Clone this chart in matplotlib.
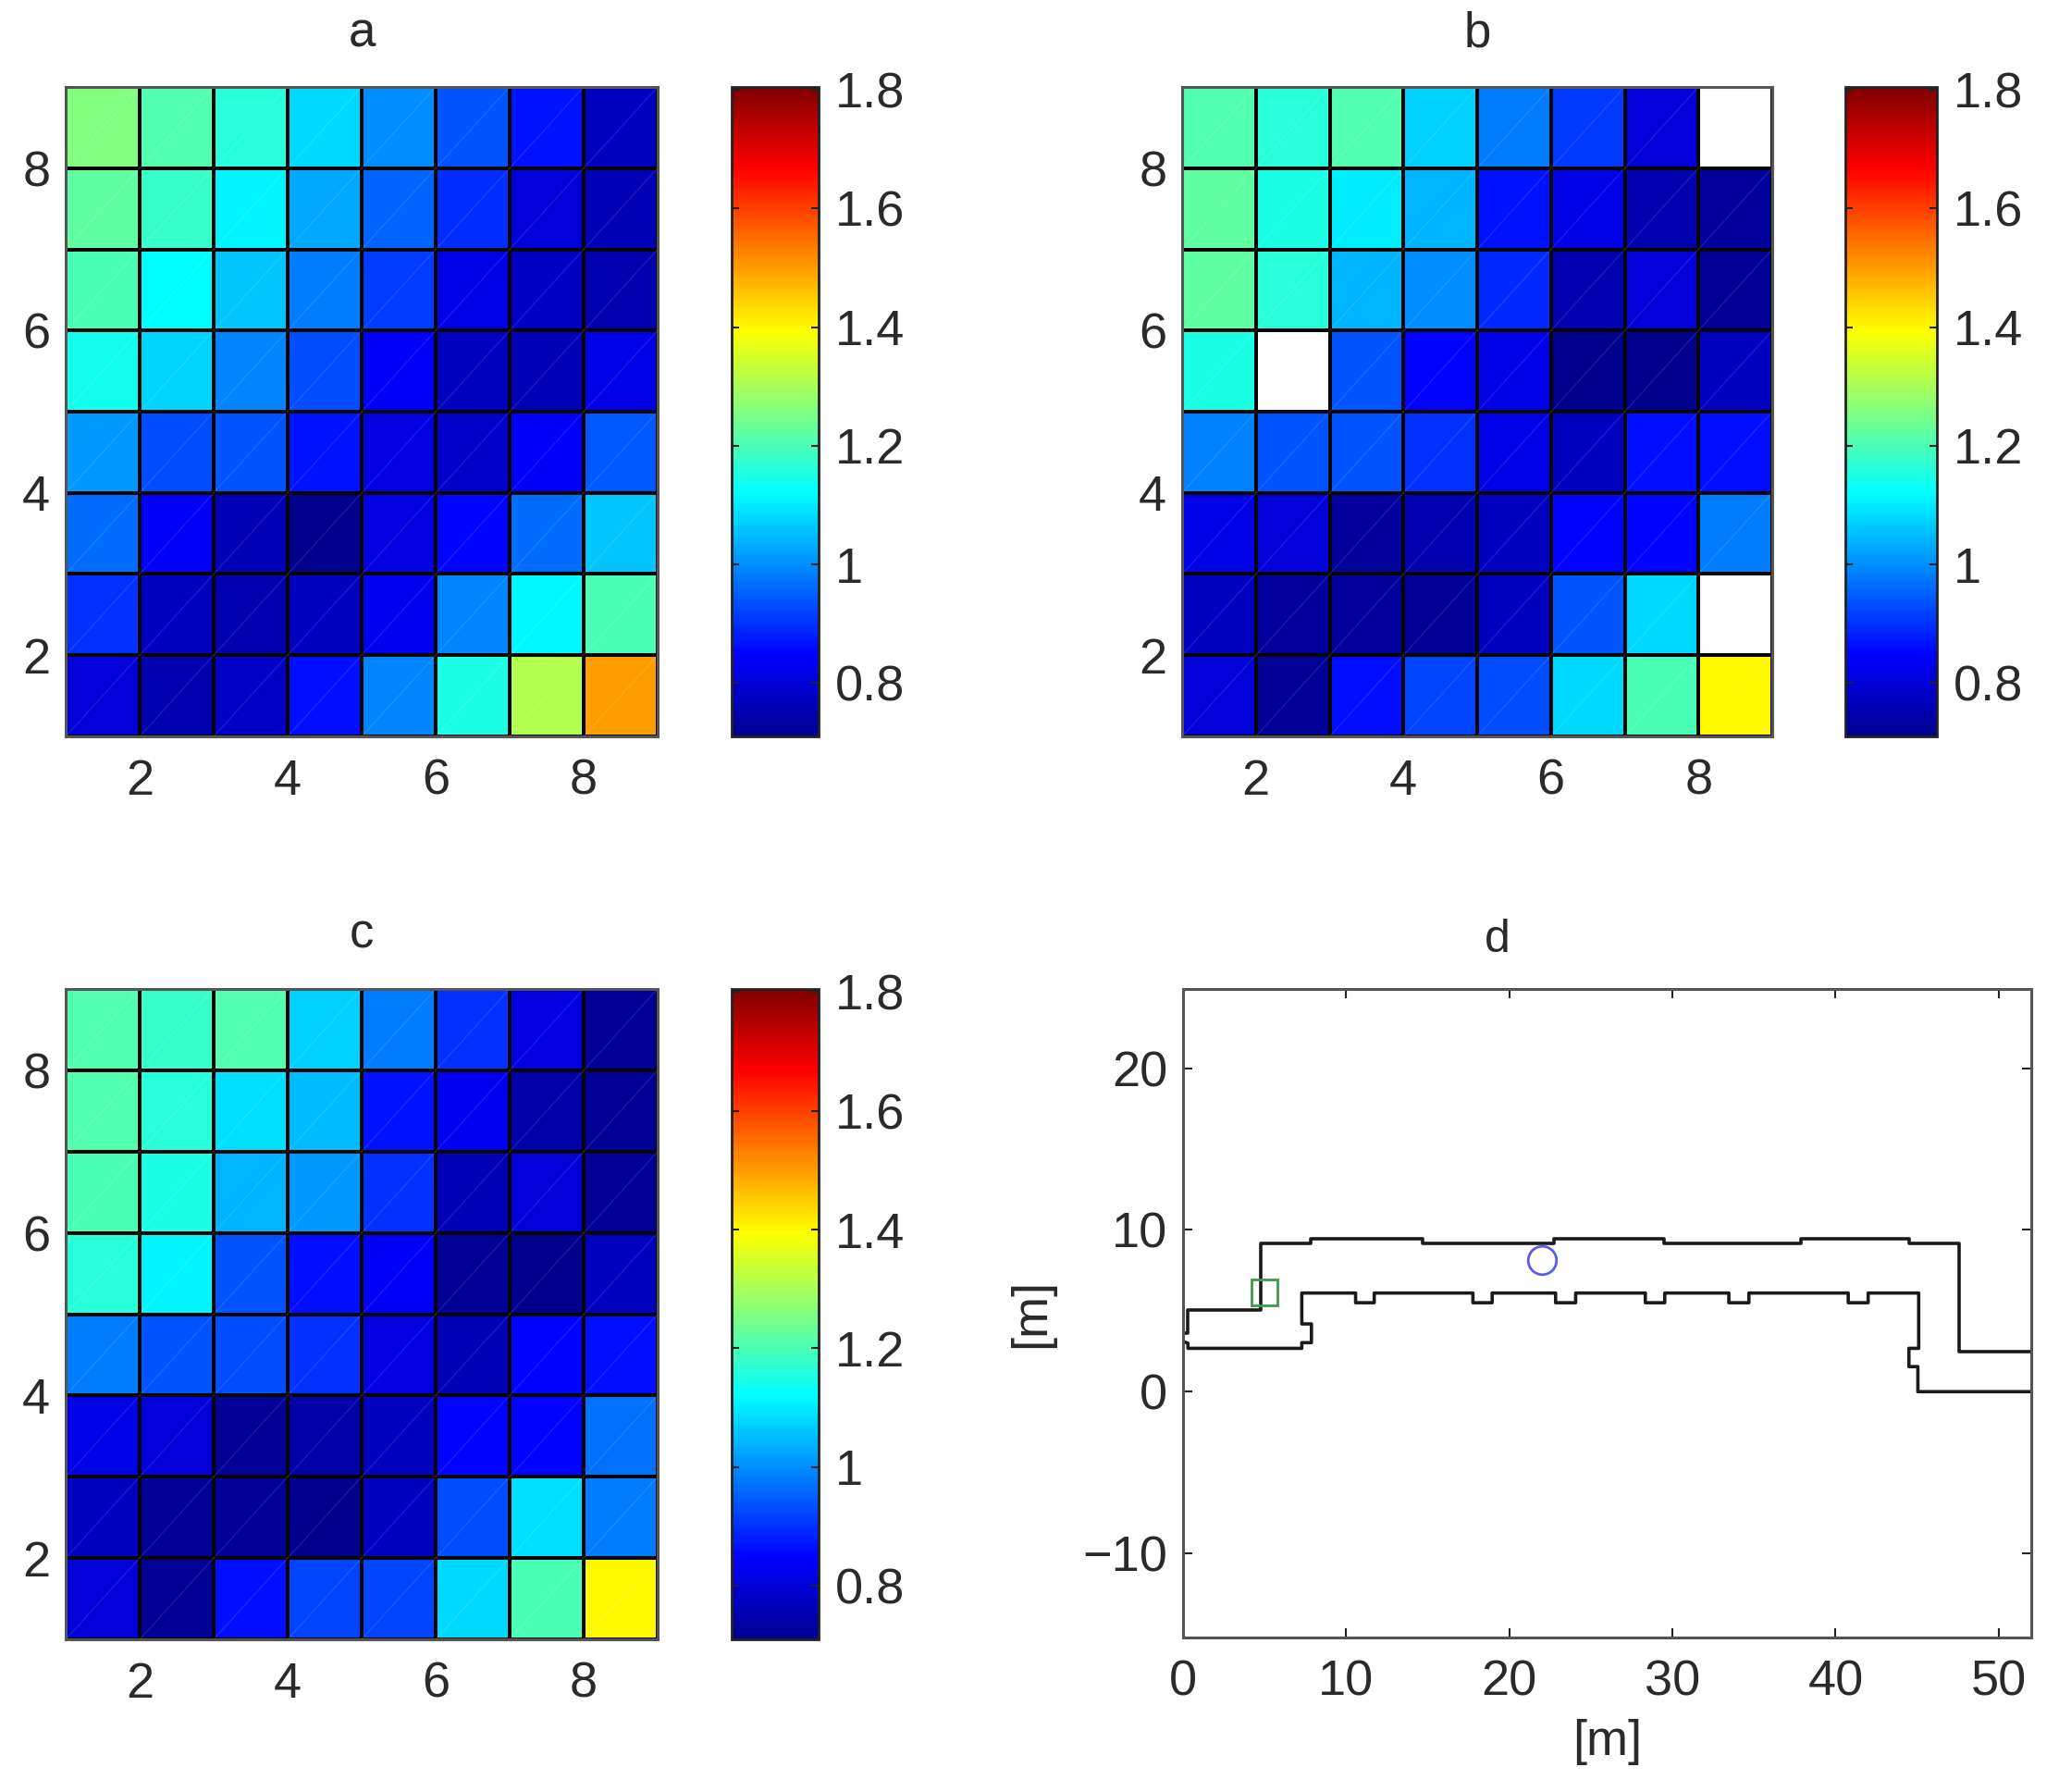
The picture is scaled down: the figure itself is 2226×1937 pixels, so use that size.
import numpy as np
import matplotlib
matplotlib.use('Agg')
import matplotlib.pyplot as plt
from matplotlib.colors import LinearSegmentedColormap

plt.rcParams['font.family'] = ['Liberation Sans', 'DejaVu Sans']

# valores de cada celda, fila superior primero
gridA = [
    [1.26, 1.21, 1.16, 1.08, 1.00, 0.94, 0.865, 0.77],
    [1.22, 1.18, 1.11, 1.03, 0.955, 0.895, 0.80, 0.76],
    [1.20, 1.12, 1.06, 0.98, 0.915, 0.82, 0.775, 0.75],
    [1.14, 1.075, 0.99, 0.93, 0.84, 0.77, 0.76, 0.82],
    [1.01, 0.93, 0.94, 0.865, 0.81, 0.785, 0.84, 0.945],
    [0.965, 0.84, 0.76, 0.71, 0.81, 0.855, 0.965, 1.06],
    [0.90, 0.77, 0.75, 0.77, 0.83, 0.99, 1.115, 1.20],
    [0.80, 0.75, 0.78, 0.86, 0.99, 1.15, 1.31, 1.50],
]
gridB = [
    [1.21, 1.16, 1.21, 1.07, 0.98, 0.91, 0.80, np.nan],
    [1.22, 1.15, 1.10, 1.04, 0.865, 0.82, 0.75, 0.73],
    [1.22, 1.16, 1.04, 1.00, 0.89, 0.75, 0.80, 0.72],
    [1.15, np.nan, 0.94, 0.85, 0.82, 0.71, 0.71, 0.77],
    [0.985, 0.94, 0.94, 0.90, 0.82, 0.77, 0.86, 0.86],
    [0.82, 0.80, 0.73, 0.75, 0.77, 0.85, 0.85, 0.98],
    [0.77, 0.73, 0.73, 0.72, 0.77, 0.94, 1.08, np.nan],
    [0.80, 0.72, 0.86, 0.92, 0.93, 1.08, 1.20, 1.40],
]
gridC = [
    [1.21, 1.18, 1.21, 1.07, 0.98, 0.90, 0.81, 0.72],
    [1.21, 1.16, 1.09, 1.05, 0.865, 0.83, 0.74, 0.72],
    [1.20, 1.15, 1.04, 1.01, 0.90, 0.76, 0.80, 0.72],
    [1.16, 1.11, 0.94, 0.86, 0.84, 0.72, 0.71, 0.77],
    [0.98, 0.94, 0.93, 0.90, 0.81, 0.76, 0.85, 0.86],
    [0.82, 0.80, 0.72, 0.74, 0.77, 0.85, 0.85, 0.97],
    [0.77, 0.72, 0.72, 0.71, 0.77, 0.93, 1.09, 0.98],
    [0.80, 0.72, 0.86, 0.92, 0.92, 1.08, 1.20, 1.40],
]
cbarTicks = [0.8, 1.0, 1.2, 1.4, 1.6, 1.8]
cbarLabels = ['0.8', '1', '1.2', '1.4', '1.6', '1.8']

# contorno del pasillo (panel d)
upperX = [0, 0.3, 0.3, 4.74, 4.74, 7.83, 7.83, 14.68, 14.68, 22.76, 22.76, 29.5, 29.5,
          37.9, 37.9, 44.5, 44.5, 47.6, 47.6, 52]
upperY = [3.6, 3.6, 5.06, 5.06, 9.19, 9.19, 9.48, 9.48, 9.19, 9.19, 9.48, 9.48, 9.19,
          9.19, 9.48, 9.48, 9.19, 9.19, 2.48, 2.48]
lowerX = [0, 0.3, 0.3, 7.28, 7.28, 7.87, 7.87, 7.28, 7.28, 10.58, 10.58, 11.72, 11.72,
          17.77, 17.77, 18.95, 18.95, 22.84, 22.84, 24.07, 24.07, 28.34, 28.34, 29.53, 29.53,
          33.46, 33.46, 34.69, 34.69, 40.78, 40.78, 42, 42, 45.1, 45.1, 44.5, 44.5, 45.05, 45.05, 52]
lowerY = [3.1, 3.0, 2.68, 2.68, 3.03, 3.03, 4.19, 4.19, 6.1, 6.1, 5.5, 5.5, 6.1,
          6.1, 5.5, 5.5, 6.1, 6.1, 5.5, 5.5, 6.1, 6.1, 5.5, 5.5, 6.1,
          6.1, 5.5, 5.5, 6.1, 6.1, 5.5, 5.5, 6.1, 6.1, 2.68, 2.68, 1.55, 1.55, 0, 0]
squareX, squareY = 5, 6.15
circleX, circleY = 22, 8.15

W, H = 2226, 1937
edgeGray = '#555555'
textGray = '#2a2a2a'
tickSize = 39

# jet como el de MATLAB
jetMatlab = LinearSegmentedColormap.from_list('jetMatlab', [
    (0, (0, 0, 0.5625)), (0.125, (0, 0, 1)), (0.375, (0, 1, 1)),
    (0.625, (1, 1, 0)), (0.875, (1, 0, 0)), (1, (0.5, 0, 0))], N=256)


def makeAxes(fig, left, top, right, bottom):
    return fig.add_axes([left / W, 1 - bottom / H, (right - left) / W, (bottom - top) / H])


def styleAxes(ax):
    for spine in ax.spines.values():
        spine.set_color(edgeGray)
        spine.set_linewidth(2.2)
    ax.tick_params(direction='in', length=7, width=1.5, color='#222222',
                   labelsize=tickSize, labelcolor=textGray, pad=12)
    ax.tick_params(axis='x', pad=17)


def drawGrid(fig, values, title, titlePad, left, right, top, bottom, cbarLeft, cbarRight):
    ax = makeAxes(fig, left, top, right, bottom)
    edges = np.arange(1, 10)
    data = np.ma.masked_invalid(np.array(values)[::-1])
    mesh = ax.pcolormesh(edges, edges, data, cmap=jetMatlab, vmin=0.71, vmax=1.805,
                         edgecolors='#050505', linewidth=1.5)
    # lineas diagonales tenues de cada celda
    for i in range(8):
        for j in range(8):
            if not np.ma.is_masked(data[i, j]):
                ax.plot([edges[j], edges[j + 1]], [edges[i], edges[i + 1]],
                        color='white', lw=0.8, alpha=0.13)
    ax.set_xlim(1, 9)
    ax.set_ylim(1, 9)
    ax.set_xticks([2, 4, 6, 8])
    ax.set_yticks([2, 4, 6, 8])
    styleAxes(ax)
    ax.tick_params(length=0)
    ax.set_title(title, fontsize=38, color=textGray, pad=titlePad)

    cax = makeAxes(fig, cbarLeft, top, cbarRight, bottom)
    cbar = fig.colorbar(mesh, cax=cax)
    cbar.set_ticks(cbarTicks)
    cbar.set_ticklabels(cbarLabels)
    cbar.outline.set_edgecolor('#222222')
    cbar.outline.set_linewidth(2)
    cax.tick_params(direction='in', length=6, width=1.5, color='#222222', left=True,
                    labelsize=tickSize, labelcolor=textGray, pad=13)


fig = plt.figure(figsize=(W / 100, H / 100), dpi=100)

drawGrid(fig, gridA, 'a', 31, 71, 711, 94, 796, 791, 885)
drawGrid(fig, gridB, 'b', 31, 1278, 1916, 94, 796, 1995, 2094)
drawGrid(fig, gridC, 'c', 32, 71, 711, 1069, 1772, 791, 885)

axD = makeAxes(fig, 1279, 1069, 2196, 1770)
axD.plot(upperX, upperY, color='#1a1a1a', lw=2.6)
axD.plot(lowerX, lowerY, color='#1a1a1a', lw=2.6)
axD.plot(squareX, squareY, 's', mfc='none', mec='#3c9a4a', ms=20, mew=2)
axD.plot(circleX, circleY, 'o', mfc='none', mec='#5a5af0', ms=22, mew=2)
axD.set_xlim(0, 52)
axD.set_ylim(-15.2, 24.9)
axD.set_xticks([0, 10, 20, 30, 40, 50])
axD.set_yticks([-10, 0, 10, 20])
axD.set_yticklabels(['\u221210', '0', '10', '20'])
styleAxes(axD)
axD.tick_params(top=True, right=True)
axD.set_xlabel('[m]', fontsize=tickSize, color=textGray, labelpad=10)
axD.set_ylabel('[m]', fontsize=tickSize, color=textGray, labelpad=22)
axD.set_title('d', fontsize=36, color=textGray, x=0.371, pad=29)

fig.savefig('out.png', dpi=100)
